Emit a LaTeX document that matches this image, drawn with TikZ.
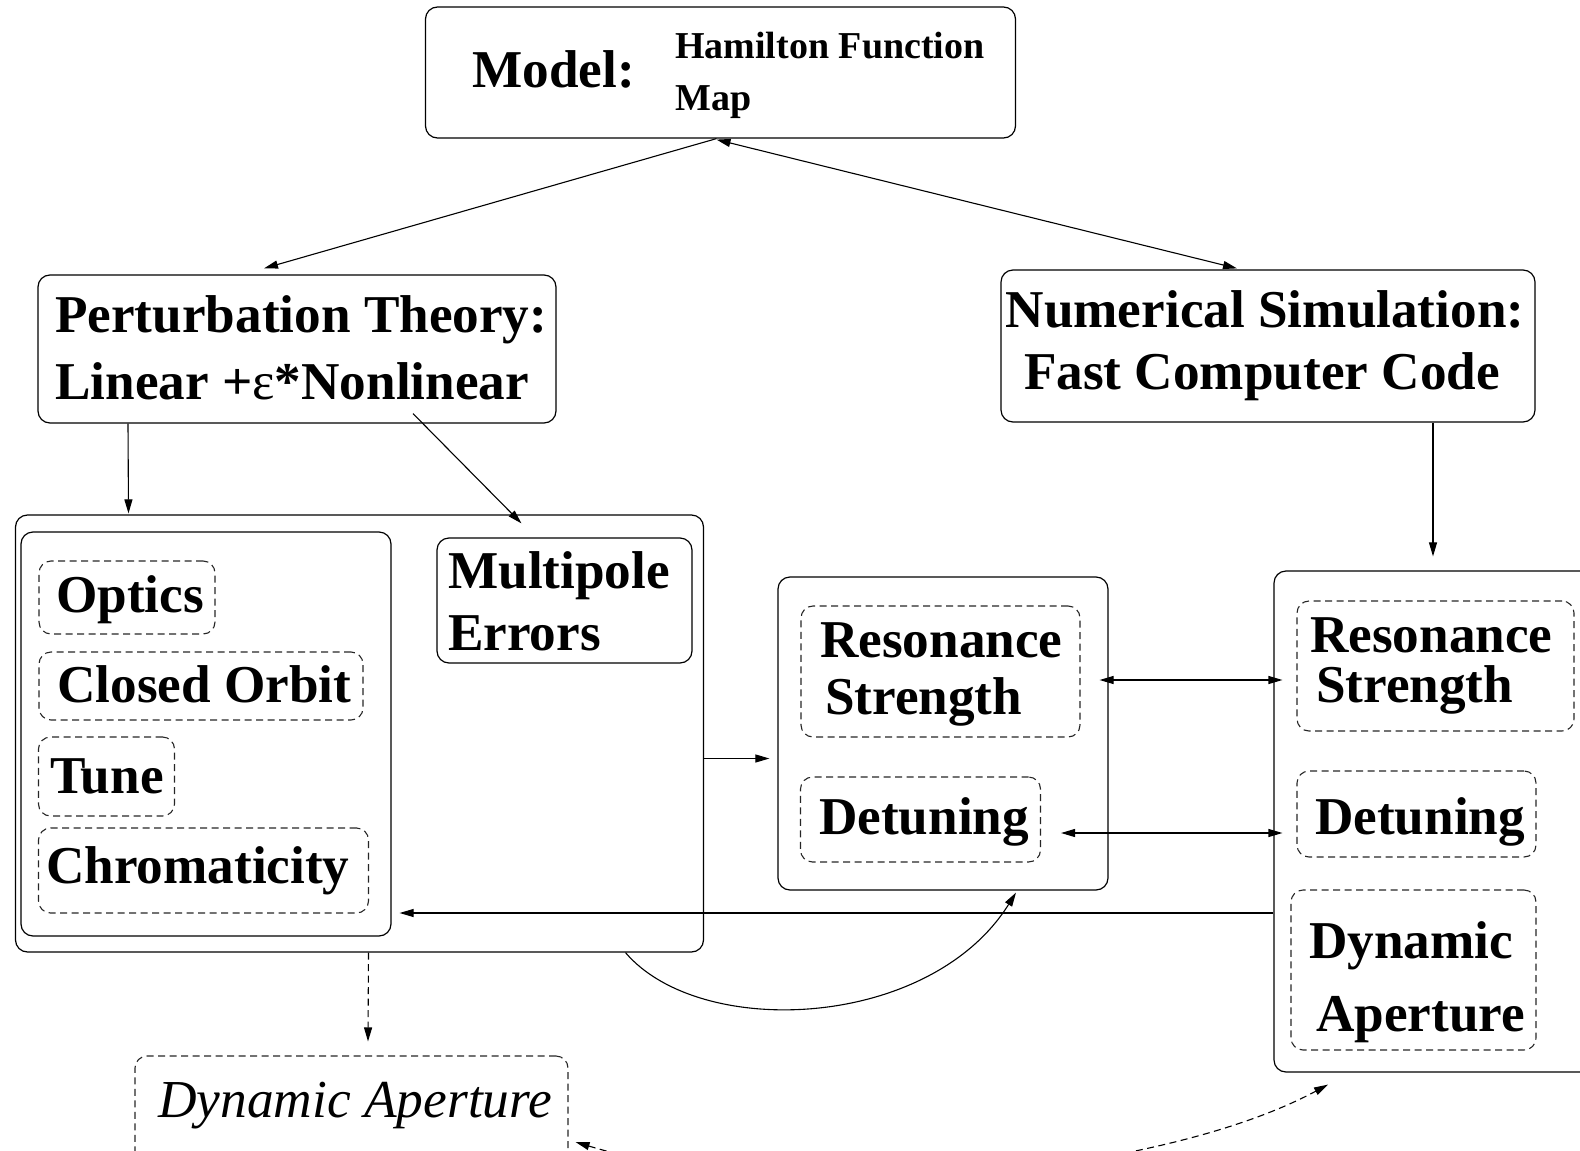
\documentclass[tikz,border=0pt]{standalone}
\usepackage{fontspec}
\setmainfont{Liberation Serif}
\usetikzlibrary{arrows.meta}
\begin{document}
\begin{tikzpicture}[x=1pt,y=-1pt,
  box/.style={draw, line width=1.2pt, rounded corners=12pt, inner sep=0pt},
  dbox/.style={draw=black!85, line width=1.1pt, rounded corners=12pt, dash pattern=on 7pt off 4.5pt, inner sep=0pt},
  lbl/.style={font=\fontsize{53.2}{60}\selectfont\bfseries, inner sep=0pt, anchor=base west},
  slbl/.style={font=\fontsize{38}{44}\selectfont\bfseries, inner sep=0pt, anchor=base west},
  arr/.style={line width=1.1pt, -{Triangle[length=14pt,width=8pt]}},
  darr/.style={line width=1.1pt, {Triangle[length=14pt,width=8pt]}-{Triangle[length=14pt,width=8pt]}},
  dashedarr/.style={line width=1.1pt, dash pattern=on 7pt off 4.5pt, -{Triangle[length=14pt,width=8pt]}},
]
\useasboundingbox (0,0) rectangle (1580,1151);
\clip (0,0) rectangle (1580,1151);

% boxes
\node[box, minimum width=590pt, minimum height=131pt] (model) at (720.5,72.5) {};
\node[box, minimum width=518pt, minimum height=148pt] (pert) at (297,349) {};
\node[box, minimum width=534pt, minimum height=152pt] (num) at (1268,346) {};
\node[box, minimum width=688pt, minimum height=437pt] (big) at (359.5,733.5) {};
\node[box, minimum width=370pt, minimum height=404pt] (inner) at (206,734) {};
\node[dbox, minimum width=176pt, minimum height=73pt] (optics) at (127,597.5) {};
\node[dbox, minimum width=324pt, minimum height=68pt] (closed) at (201,686) {};
\node[dbox, minimum width=136pt, minimum height=79pt] (tune) at (106.5,776.5) {};
\node[dbox, minimum width=330pt, minimum height=85pt] (chrom) at (203.5,870.5) {};
\node[box, minimum width=255pt, minimum height=125pt] (multi) at (564.5,600.5) {};
\node[box, minimum width=330pt, minimum height=313pt] (mid) at (943,733.5) {};
\node[dbox, minimum width=279pt, minimum height=131pt] (resL) at (940.5,671.5) {};
\node[dbox, minimum width=240pt, minimum height=85pt] (detL) at (920.5,819.5) {};
\node[box, minimum width=326pt, minimum height=501pt] (rbox) at (1437,821.5) {};
\node[dbox, minimum width=277pt, minimum height=130pt] (resR) at (1435.5,666) {};
\node[dbox, minimum width=239pt, minimum height=86pt] (detR) at (1416.5,814) {};
\node[dbox, minimum width=245pt, minimum height=160pt] (dynR) at (1413.5,970) {};
\node[dbox, minimum width=433pt, minimum height=110pt] (dynL) at (351.5,1111) {};

% texts
\node[lbl] (tModel) at (472,87) {Model:};
\node[slbl] (tHam) at (675,58) {Hamilton Function};
\node[slbl] (tMap) at (675,110) {Map};
\node[lbl] (tPert) at (55,332) {Perturbation Theory:};
\node[lbl] (tLin) at (55,399) {Linear +{\mdseries ε}*Nonlinear};
\node[lbl, anchor=base] (tNum) at (1265,327) {Numerical Simulation:};
\node[lbl, anchor=base] (tFast) at (1262,389) {Fast Computer Code};
\node[lbl] (tOptics) at (56,612) {Optics};
\node[lbl] (tClosed) at (57,702) {Closed Orbit};
\node[lbl] (tTune) at (50,793) {Tune};
\node[lbl] (tChrom) at (46,883) {Chromaticity};
\node[lbl] (tMulti) at (448,588) {Multipole};
\node[lbl] (tErr) at (448,650) {Errors};
\node[lbl] (tResL) at (820,657) {Resonance};
\node[lbl] (tStrL) at (825,714) {Strength};
\node[lbl] (tDetL) at (819,834) {Detuning};
\node[lbl] (tResR) at (1310,652) {Resonance};
\node[lbl] (tStrR) at (1316,702) {Strength};
\node[lbl] (tDetR) at (1315,834) {Detuning};
\node[lbl] (tDynR) at (1309,958) {Dynamic};
\node[lbl] (tApR) at (1316,1031) {Aperture};
\node[lbl, font=\fontsize{53.4}{60}\selectfont\itshape] (tDynL) at (158,1117) {Dynamic Aperture};

% connectors
\draw[arr] ([xshift=-4pt]model.south) -- ([xshift=-33pt,yshift=6pt]pert.north);
\draw[darr] ([xshift=-4pt,yshift=-1pt]model.south) -- ([xshift=-31pt,yshift=1pt]num.north);
\draw[arr] ([xshift=-169pt]pert.south) -- ([xshift=-231pt,yshift=1pt]big.north);
\draw[arr] ([xshift=116pt,yshift=10pt]pert.south) -- ([xshift=162pt,yshift=-9pt]big.north);
\draw[arr] (num.south -| 1433,0) -- ([xshift=-4pt,yshift=14pt]rbox.north);
\draw[arr] ([yshift=-25pt]big.east) -- ([xshift=-8pt,yshift=-25pt]mid.west);
\draw[darr] ([xshift=19pt,yshift=-8.5pt]resL.east) -- ([xshift=-14pt,yshift=-14pt]resR.west);
\draw[darr] ([xshift=20pt,yshift=-13.5pt]detL.east) -- ([xshift=-14pt,yshift=-19pt]detR.west);
\draw[arr] ([yshift=-91.5pt]rbox.west) -- ([xshift=8pt,yshift=-179pt]inner.east);
\draw[arr] ([xshift=266pt]big.south) .. controls (700,1040) and (930,1030) .. ([xshift=73pt,yshift=-2pt]mid.south);
\draw[dashedarr] ([xshift=9pt]big.south) -- ([xshift=16.5pt,yshift=14pt]dynL.north);
\draw[line width=1.1pt, dash pattern=on 7pt off 4.5pt, {Triangle[length=14pt,width=8pt]}-{Triangle[length=14pt,width=8pt]}]
  ([xshift=7pt,yshift=-31pt]dynL.east) .. controls (800,1210) and (1160,1175) .. ([xshift=-109pt,yshift=-12pt]rbox.south);
\end{tikzpicture}
\end{document}
